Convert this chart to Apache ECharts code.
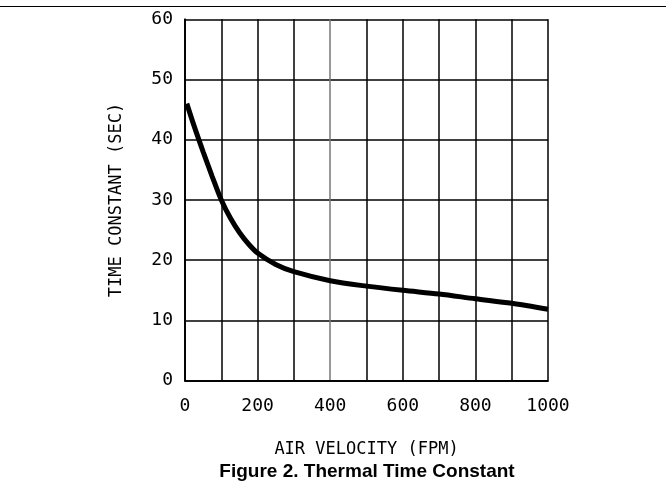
<!DOCTYPE html>
<html>
<head>
<meta charset="utf-8">
<script src="https://cdn.jsdelivr.net/npm/echarts@6/dist/echarts.min.js"></script>
<style>
html,body{margin:0;padding:0;background:#fff;}
#chart{width:666px;height:493px;}
</style>
</head>
<body>
<div id="chart"></div>
<script>
var airVelocity = [5, 25, 50, 75, 100, 125, 150, 175, 200, 250, 300, 400, 500, 600, 700, 800, 900, 1000];
var timeConstant = [46, 42.3, 38.0, 33.9, 30.0, 27.0, 24.6, 22.7, 21.2, 19.3, 18.1, 16.6, 15.7, 15.0, 14.4, 13.6, 12.85, 11.85];
var xTicks = [0, 200, 400, 600, 800, 1000];
var yTicks = [0, 10, 20, 30, 40, 50, 60];
var xName = 'AIR VELOCITY (FPM)';
var yName = 'TIME CONSTANT (SEC)';
var figTitle = 'Figure 2. Thermal Time Constant';

var points = airVelocity.map(function (v, i) { return [v, timeConstant[i]]; });
var mono = '"DejaVu Sans Mono", monospace';
var frame = {show: true, lineStyle: {color: '#000', width: 1.5}};

var chart = echarts.init(document.getElementById('chart'), null, {renderer: 'canvas'});
chart.setOption({
  animation: false,
  backgroundColor: '#fff',
  title: {
    text: figTitle,
    left: 362, top: 457, textAlign: 'center',
    textStyle: {fontFamily: '"Liberation Sans", Arial, sans-serif', fontWeight: 'bold', fontSize: 19, color: '#000'}
  },
  graphic: [{
    type: 'line', shape: {x1: 0, y1: 6.5, x2: 666, y2: 6.5},
    style: {stroke: '#000', lineWidth: 1.2}
  }],
  grid: {left: 185, right: 118, top: 19.3, bottom: 112.3},
  xAxis: [{
    type: 'value', min: 0, max: 1000, interval: 100,
    name: xName, nameLocation: 'middle', nameGap: 60,
    nameTextStyle: {fontFamily: mono, fontSize: 17, color: '#000'},
    axisLine: frame,
    axisTick: {show: false},
    axisLabel: {
      fontFamily: mono, fontSize: 18, color: '#000', margin: 17,
      formatter: function (v) { return xTicks.indexOf(v) >= 0 ? String(v) : ''; }
    },
    splitLine: {show: true, lineStyle: {color: ['#000','#000','#000','#000','#777','#000','#000','#000','#000','#000','#000'], width: 1.5}}
  }, {
    type: 'value', position: 'top', min: 0, max: 1000,
    axisLine: frame, axisTick: {show: false}, axisLabel: {show: false}, splitLine: {show: false}
  }],
  yAxis: [{
    type: 'value', min: 0, max: 60, interval: 10,
    name: yName, nameLocation: 'middle', nameGap: 60,
    nameTextStyle: {fontFamily: mono, fontSize: 17, color: '#000'},
    axisLine: frame,
    axisTick: {show: false},
    axisLabel: {
      fontFamily: mono, fontSize: 18, color: '#000', margin: 12,
      formatter: function (v) { return yTicks.indexOf(v) >= 0 ? String(v) : ''; }
    },
    splitLine: {show: true, lineStyle: {color: '#000', width: 1.5}}
  }, {
    type: 'value', position: 'right', min: 0, max: 60,
    axisLine: frame, axisTick: {show: false}, axisLabel: {show: false}, splitLine: {show: false}
  }],
  series: [{
    type: 'line', data: points, smooth: 0.3, symbol: 'none',
    xAxisIndex: 0, yAxisIndex: 0,
    lineStyle: {color: '#000', width: 5},
    clip: false
  }]
});
</script>
</body>
</html>
